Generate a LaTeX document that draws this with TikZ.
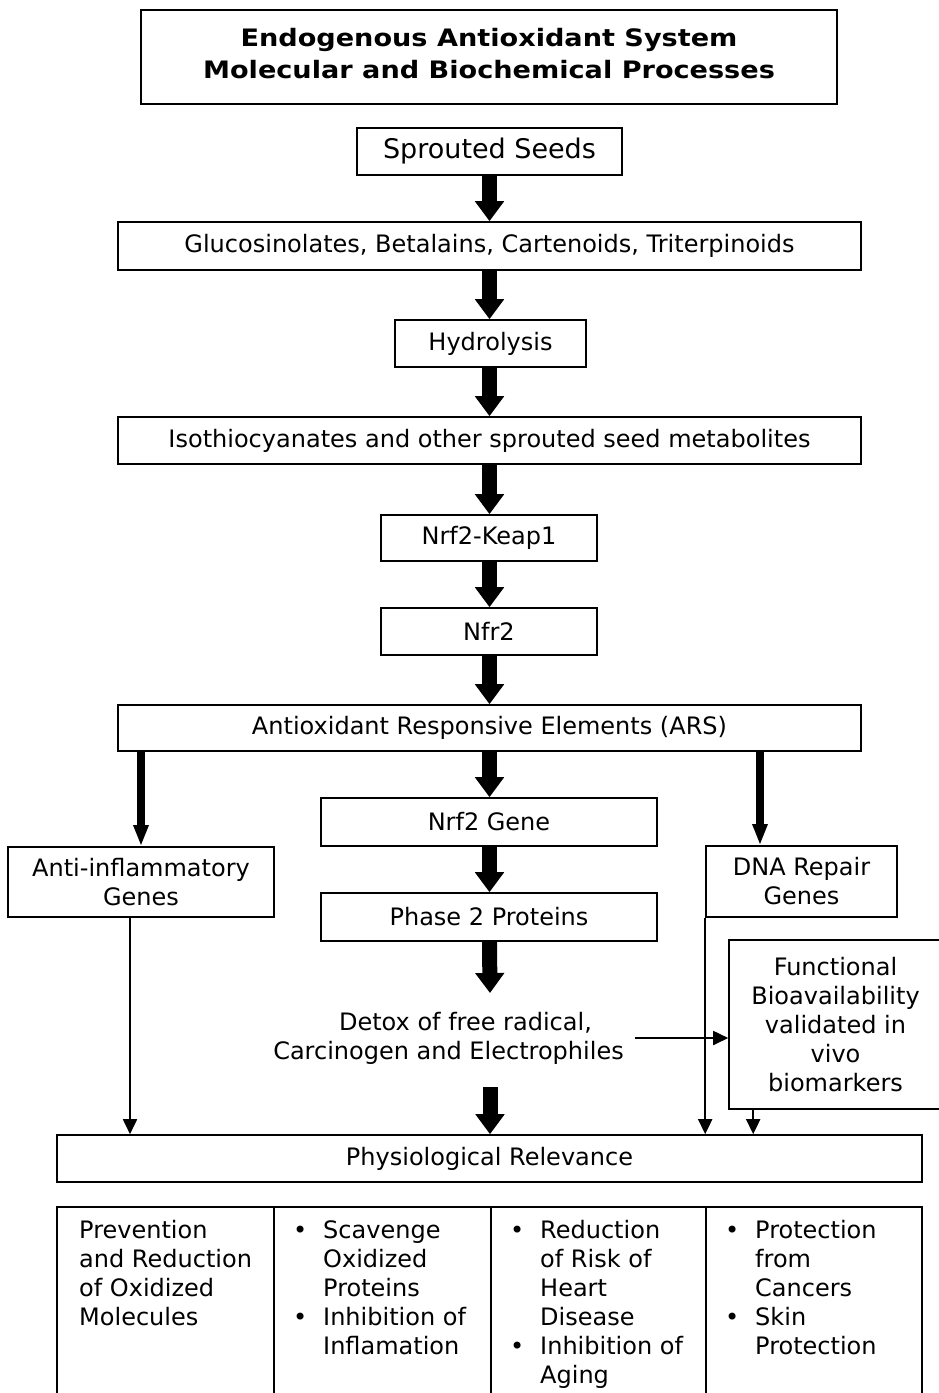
\documentclass[tikz,border=0pt]{standalone}
\usepackage{fontspec}
\setmainfont{DejaVu Sans}
\usetikzlibrary{arrows.meta}
\begin{document}
\begin{tikzpicture}[x=1pt,y=-1pt,
  txt/.style={font=\fontsize{24}{29}\selectfont},
  box/.style={draw, line width=1.6pt, inner sep=0pt, align=center, txt},
  big/.style={line width=15pt, -{Triangle[width=28pt,length=20pt]}},
  med/.style={line width=8pt, -{Triangle[width=14pt,length=21pt]}},
  thinarr/.style={line width=1.8pt, -{Triangle[width=14pt,length=15pt]}},
  cell/.style={txt, inner sep=0pt, anchor=base west},
  grid/.style={line width=1.6pt}
]
\useasboundingbox (0,0) rectangle (938,1393);

% boxes
\node[box, minimum width=696pt, minimum height=94pt] (title) at (489,57) {};
\node[align=center, inner sep=0pt, font=\fontsize{24}{32}\selectfont\bfseries\addfontfeature{FakeStretch=1.13}] (titletext) at ([yshift=3.5pt]title.center)
  {Endogenous Antioxidant System\\Molecular and Biochemical Processes};
\node[box, minimum width=265pt, minimum height=47pt, font=\fontsize{27}{32}\selectfont] (seeds) at (489.5,151.5) {Sprouted Seeds};
\node[box, minimum width=743pt, minimum height=48pt] (gluc) at (489.5,246) {Glucosinolates, Betalains, Cartenoids, Triterpinoids};
\node[box, minimum width=191pt, minimum height=47pt] (hydro) at (490.5,343.5) {Hydrolysis};
\node[box, minimum width=743pt, minimum height=47pt] (iso) at (489.5,440.5) {Isothiocyanates and other sprouted seed metabolites};
\node[box, minimum width=216pt, minimum height=46pt] (keap) at (489,538) {Nrf2-Keap1};
\node[box, minimum width=216pt, minimum height=47pt] (nfr) at (489,631.5) {Nfr2};
\node[box, minimum width=743pt, minimum height=46pt] (ars) at (489.5,728) {Antioxidant Responsive Elements (ARS)};
\node[box, minimum width=266pt, minimum height=70pt] (anti) at (141,882) {Anti-inflammatory\\Genes};
\node[box, minimum width=336pt, minimum height=48pt] (gene) at (489,822) {Nrf2 Gene};
\node[box, minimum width=336pt, minimum height=48pt] (phase) at (489,917) {Phase 2 Proteins};
\node[box, minimum width=191pt, minimum height=71pt] (dna) at (801.5,881.5) {DNA Repair\\Genes};
\node[box, minimum width=213pt, minimum height=169pt] (func) at (835.5,1024.5) {Functional\\Bioavailability\\validated in\\vivo\\biomarkers};
\node[txt, align=center, inner ysep=0pt, inner xsep=11pt] (detox) at (448.5,1038) {\hspace*{34pt}Detox of free radical,\\Carcinogen and Electrophiles};
\node[box, minimum width=865pt, minimum height=47pt] (phys) at (489.5,1158.5) {Physiological Relevance};

\coordinate (detoxin) at (490,993);
\coordinate (detoxout) at (490,1087);

% thick arrows
\draw[big] (seeds.south) -- (seeds.south |- gluc.north);
\draw[big] (seeds.south |- gluc.south) -- (seeds.south |- hydro.north);
\draw[big] (seeds.south |- hydro.south) -- (seeds.south |- iso.north);
\draw[big] (seeds.south |- iso.south) -- (seeds.south |- keap.north);
\draw[big] (seeds.south |- keap.south) -- (seeds.south |- nfr.north);
\draw[big] (seeds.south |- nfr.south) -- (seeds.south |- ars.north);
\draw[big] (seeds.south |- ars.south) -- (seeds.south |- gene.north);
\draw[big] (seeds.south |- gene.south) -- (seeds.south |- phase.north);
\draw[big] (seeds.south |- phase.south) -- (detoxin);
\draw[big] (detoxout) -- (detoxout |- phys.north);

% side arrows
\draw[med] (anti.north |- ars.south) -- (anti.north);
\draw[med] ([xshift=-41.5pt]dna.north |- ars.south) -- ([xshift=-41.5pt]dna.north);

% thin arrows
\draw[thinarr] ([xshift=-11pt]anti.south) -- ([xshift=-11pt]anti.south |- phys.north);
\draw[thinarr] (dna.south west) -- (dna.south west |- phys.north);
\draw[thinarr] ([xshift=25pt]func.south west) -- ([xshift=25pt]func.south west |- phys.north);
\draw[thinarr] (detox.east) -- (detox.east -| func.west);

% table
\draw[grid] (57,1410) -- (57,1207) -- (922,1207) -- (922,1410);
\draw[grid] (274,1207) -- (274,1410);
\draw[grid] (491,1207) -- (491,1410);
\draw[grid] (706,1207) -- (706,1410);

\node[cell] (t1) at (79,1238) {\begin{tabular}[t]{@{}l@{}}Prevention\\and Reduction\\of Oxidized\\Molecules\end{tabular}};
\node[cell] (t2) at (293,1238) {\begin{tabular}[t]{@{}p{30pt}@{}l@{}}•&Scavenge\\&Oxidized\\&Proteins\\•&Inhibition of\\&Inflamation\end{tabular}};
\node[cell] (t3) at (510,1238) {\begin{tabular}[t]{@{}p{30pt}@{}l@{}}•&Reduction\\&of Risk of\\&Heart\\&Disease\\•&Inhibition of\\&Aging\end{tabular}};
\node[cell] (t4) at (725,1238) {\begin{tabular}[t]{@{}p{30pt}@{}l@{}}•&Protection\\&from\\&Cancers\\•&Skin\\&Protection\end{tabular}};
\end{tikzpicture}
\end{document}
